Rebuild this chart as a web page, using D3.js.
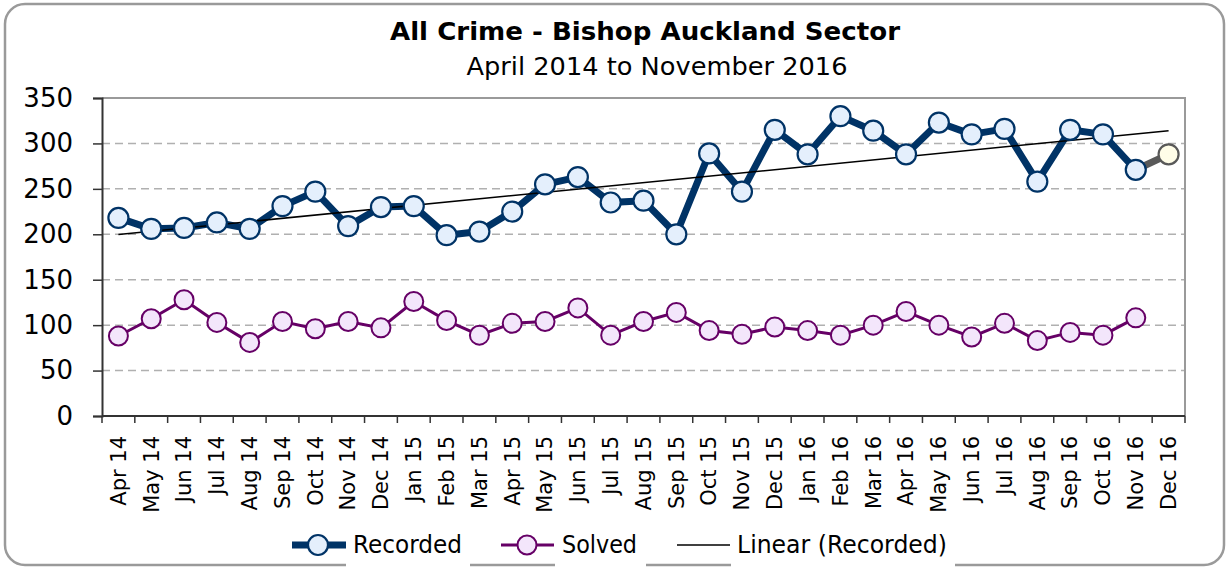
<!DOCTYPE html>
<html>
<head>
<meta charset="utf-8">
<script src="https://cdn.jsdelivr.net/npm/d3@7"></script>
<style>
  body { margin: 0; background: #fff; }
  svg text { font-family: Tahoma, "DejaVu Sans", Verdana, sans-serif; fill: #000; }
</style>
</head>
<body>
<div id="chart"></div>
<script>
// chart data
const months = ["Apr 14","May 14","Jun 14","Jul 14","Aug 14","Sep 14","Oct 14","Nov 14","Dec 14",
  "Jan 15","Feb 15","Mar 15","Apr 15","May 15","Jun 15","Jul 15","Aug 15","Sep 15","Oct 15","Nov 15","Dec 15",
  "Jan 16","Feb 16","Mar 16","Apr 16","May 16","Jun 16","Jul 16","Aug 16","Sep 16","Oct 16","Nov 16","Dec 16"];
const recorded = [218,206,207,213,206,231,247,209,230,231,199,203,225,255,263,235,237,200,289,247,315,288,
  330,314,288,323,310,316,258,315,310,271,288];
const solved = [88,107,128,103,81,104,96,104,97,126,105,89,102,104,119,89,104,114,94,90,98,94,
  89,100,115,100,87,102,83,92,89,108];
const yTicks = [0,50,100,150,200,250,300,350];

let width = 1226, height = 567;
let margin = {left: 102, right: 41, top: 98, bottom: 151};

let svg = d3.select("#chart").append("svg")
  .attr("width", width).attr("height", height);

// outer frame
svg.append("rect")
  .attr("x", 5).attr("y", 4).attr("width", 1219).attr("height", 561)
  .attr("rx", 20).attr("ry", 20)
  .attr("fill", "#fff").attr("stroke", "#9a9a9a").attr("stroke-width", 2.5);

// titles
svg.append("text").attr("x", 645).attr("y", 40)
  .attr("text-anchor", "middle").style("font-weight", "bold").style("font-size", "25px")
  .attr("textLength", 510).attr("lengthAdjust", "spacingAndGlyphs")
  .text("All Crime - Bishop Auckland Sector");
svg.append("text").attr("x", 657).attr("y", 75)
  .attr("text-anchor", "middle").style("font-size", "24px")
  .attr("textLength", 381).attr("lengthAdjust", "spacingAndGlyphs")
  .text("April 2014 to November 2016");

let x0 = margin.left, x1 = width - margin.right;

let x = d3.scaleBand().domain(months).range([x0, x1]);
let y = d3.scaleLinear().domain([0, 350]).range([416, 98]);
let cx = m => x(m) + x.bandwidth() / 2;

// gridlines
svg.append("g").selectAll("line")
  .data(yTicks.filter(t => t > 0 && t < 350))
  .enter().append("line")
  .attr("x1", x0).attr("x2", x1)
  .attr("y1", d => y(d)).attr("y2", d => y(d))
  .attr("stroke", "#b0b0b0").attr("stroke-width", 1.5)
  .attr("stroke-dasharray", "8,5");

// plot border top/right
svg.append("path")
  .attr("d", `M${x0},${y(350)}H${x1}V${y(0)}`)
  .attr("fill", "none").attr("stroke", "#9a9a9a").attr("stroke-width", 2);

// y axis
let yAxis = svg.append("g")
  .attr("transform", `translate(${x0},0)`)
  .call(d3.axisLeft(y).tickValues(yTicks).tickSize(9).tickPadding(20));
yAxis.selectAll("text").style("font-size", "26px");
yAxis.select(".domain").attr("stroke", "#333").attr("stroke-width", 2);
yAxis.selectAll(".tick line").attr("stroke", "#333").attr("stroke-width", 1.5);

// x axis: ticks on band edges
let xAxis = svg.append("g").attr("transform", `translate(0,${y(0)})`);
xAxis.append("line").attr("x1", x0).attr("x2", x1)
  .attr("stroke", "#333").attr("stroke-width", 2);
xAxis.selectAll("line.tk")
  .data(months.map(m => x(m)).concat([x1]))
  .enter().append("line").attr("class", "tk")
  .attr("x1", d => d).attr("x2", d => d)
  .attr("y1", 0).attr("y2", 7)
  .attr("stroke", "#333").attr("stroke-width", 1.5);
xAxis.selectAll("text")
  .data(months).enter().append("text")
  .attr("transform", d => `translate(${cx(d)},20) rotate(-90)`)
  .attr("text-anchor", "end").attr("dy", "0.35em")
  .style("font-size", "21px")
  .text(d => d);

// linear trendline on recorded series (least squares)
let n = recorded.length;
let mx = d3.mean(recorded, (d, i) => i + 1), my = d3.mean(recorded);
let slope = d3.sum(recorded, (d, i) => (i + 1 - mx) * (d - my)) / d3.sum(recorded, (d, i) => (i + 1 - mx) ** 2);
let icpt = my - slope * mx;

let line = d3.line().x(d => cx(d.m)).y(d => y(d.v));
let recPts = recorded.map((v, i) => ({m: months[i], v: v}));
let solPts = solved.map((v, i) => ({m: months[i], v: v}));

// solved
svg.append("path").datum(solPts).attr("d", line)
  .attr("fill", "none").attr("stroke", "#660066").attr("stroke-width", 3);
svg.append("g").selectAll("circle").data(solPts).enter().append("circle")
  .attr("cx", d => cx(d.m)).attr("cy", d => y(d.v)).attr("r", 9.5)
  .attr("fill", "#f3e6fb").attr("stroke", "#660066").attr("stroke-width", 2);

// recorded (last point shown as estimate in grey)
svg.append("path").datum(recPts.slice(n - 2)).attr("d", line)
  .attr("fill", "none").attr("stroke", "#595959").attr("stroke-width", 7);
svg.append("path").datum(recPts.slice(0, n - 1)).attr("d", line)
  .attr("fill", "none").attr("stroke", "#003366").attr("stroke-width", 7)
  .attr("stroke-linejoin", "round");

// trendline
svg.append("line")
  .attr("x1", cx(months[0])).attr("y1", y(icpt + slope))
  .attr("x2", cx(months[n - 1])).attr("y2", y(icpt + slope * n))
  .attr("stroke", "#000").attr("stroke-width", 1.5);

svg.append("g").selectAll("circle").data(recPts).enter().append("circle")
  .attr("cx", d => cx(d.m)).attr("cy", d => y(d.v)).attr("r", 10)
  .attr("fill", (d, i) => i == n - 1 ? "#fffde8" : "#e4effc")
  .attr("stroke", (d, i) => i == n - 1 ? "#595959" : "#003366")
  .attr("stroke-width", 2.2);

// legend
let ly = 545;
[[346, 470], [555, 646], [731, 955]].forEach(r => {
  svg.append("rect").attr("x", r[0]).attr("y", 558).attr("width", r[1] - r[0]).attr("height", 9)
    .attr("fill", "#fff");
});
let leg = svg.append("g");
leg.append("line").attr("x1", 292).attr("x2", 346).attr("y1", ly).attr("y2", ly)
  .attr("stroke", "#003366").attr("stroke-width", 7);
leg.append("circle").attr("cx", 318).attr("cy", ly).attr("r", 10)
  .attr("fill", "#e4effc").attr("stroke", "#003366").attr("stroke-width", 2.2);
leg.append("text").attr("x", 353).attr("y", ly).attr("dy", "0.35em")
  .style("font-size", "24px").attr("textLength", 109).attr("lengthAdjust", "spacingAndGlyphs")
  .text("Recorded");
leg.append("line").attr("x1", 501).attr("x2", 554).attr("y1", ly).attr("y2", ly)
  .attr("stroke", "#660066").attr("stroke-width", 3);
leg.append("circle").attr("cx", 527).attr("cy", ly).attr("r", 9.5)
  .attr("fill", "#f3e6fb").attr("stroke", "#660066").attr("stroke-width", 2);
leg.append("text").attr("x", 562).attr("y", ly).attr("dy", "0.35em")
  .style("font-size", "24px").attr("textLength", 75).attr("lengthAdjust", "spacingAndGlyphs")
  .text("Solved");
leg.append("line").attr("x1", 677).attr("x2", 730).attr("y1", ly).attr("y2", ly)
  .attr("stroke", "#000").attr("stroke-width", 1.5);
leg.append("text").attr("x", 737).attr("y", ly).attr("dy", "0.35em")
  .style("font-size", "24px").attr("textLength", 210).attr("lengthAdjust", "spacingAndGlyphs")
  .text("Linear (Recorded)");
</script>
</body>
</html>
